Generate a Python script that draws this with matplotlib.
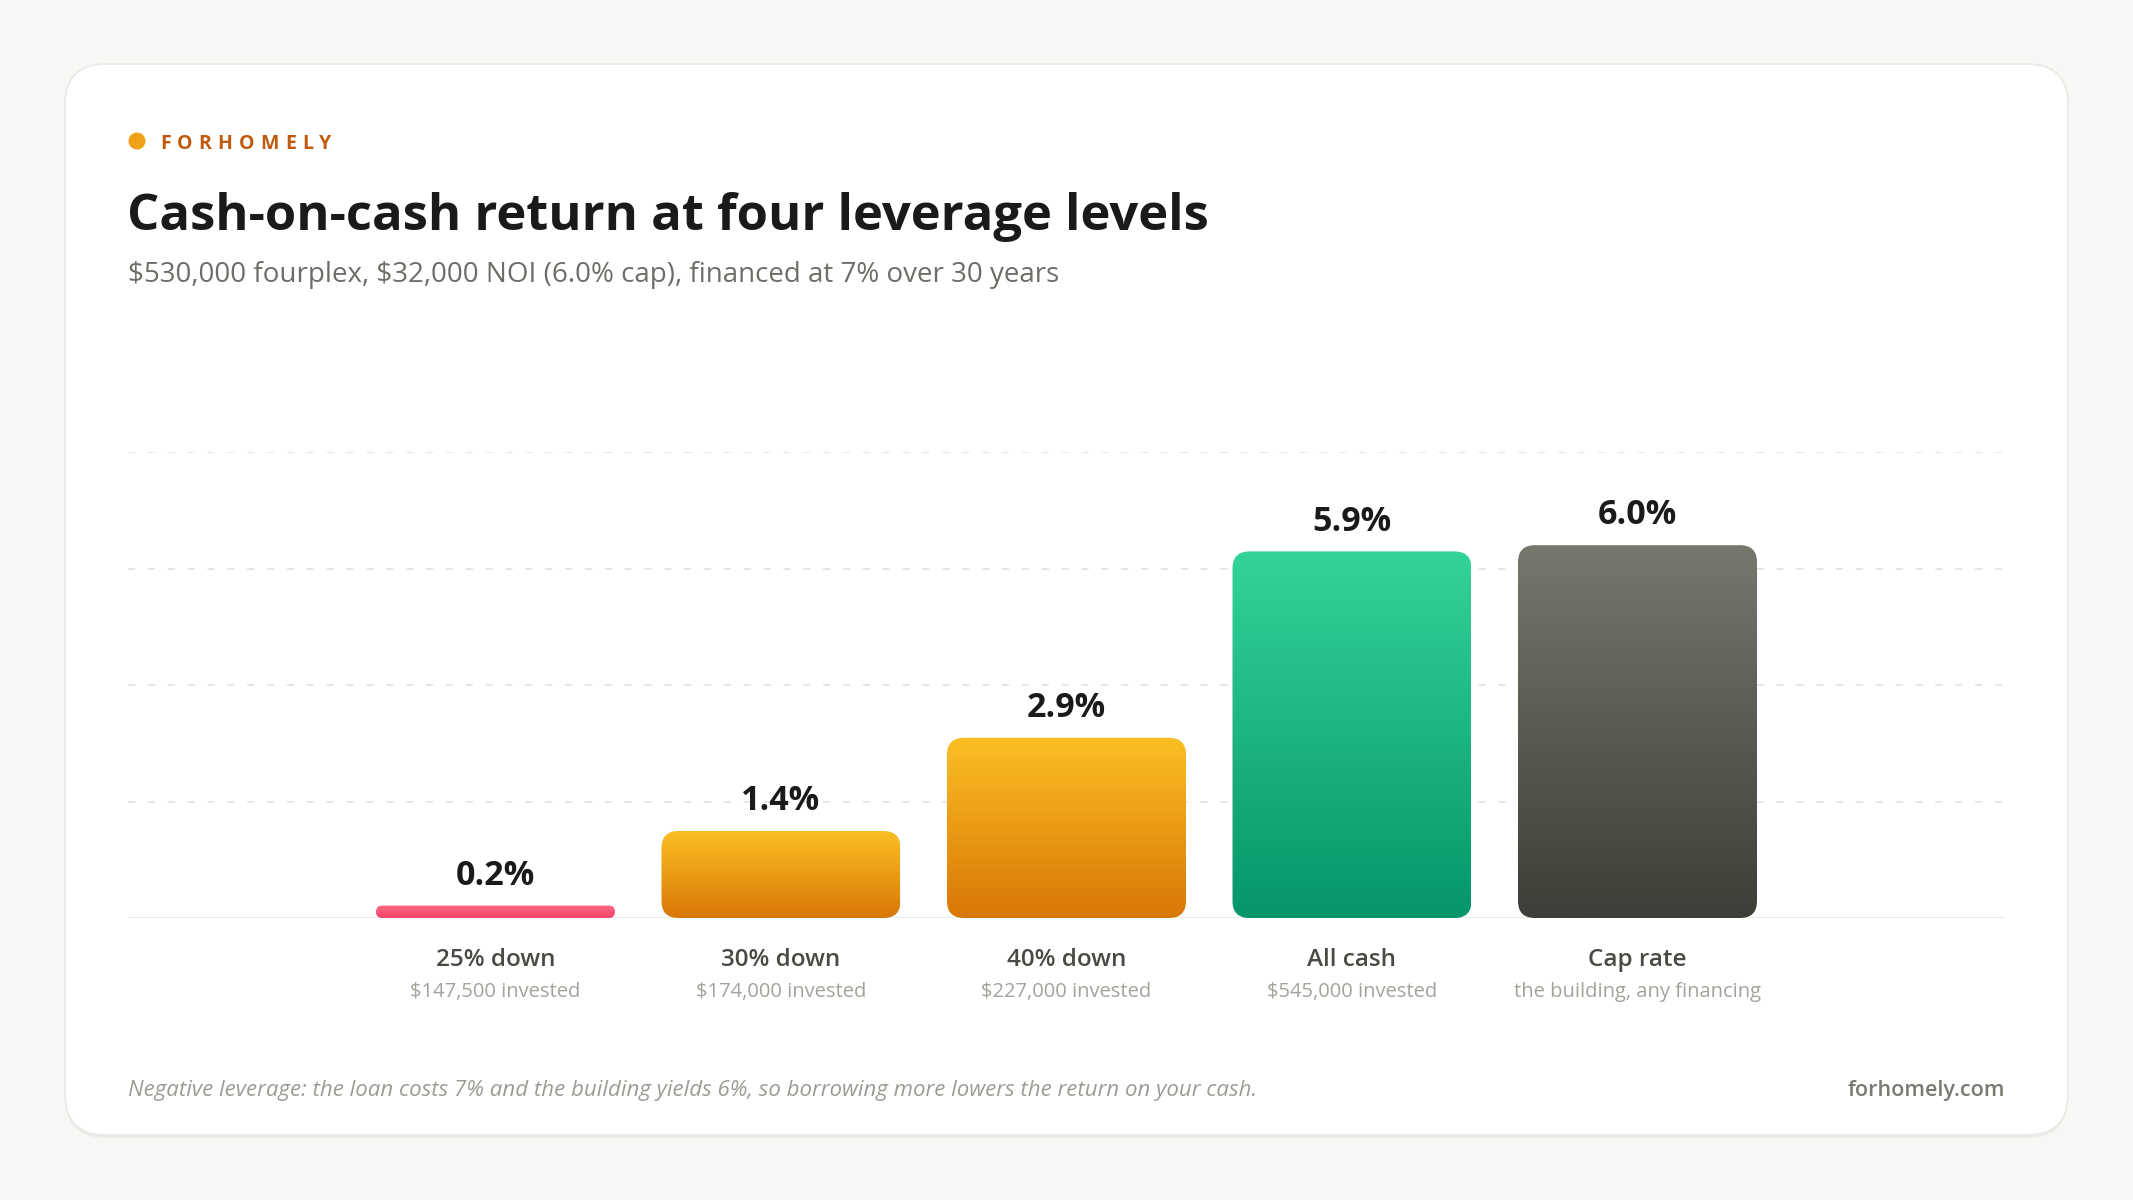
import numpy as np
import matplotlib
matplotlib.use("Agg")
import matplotlib.pyplot as plt
from matplotlib.patches import FancyBboxPatch, Circle
from matplotlib.colors import LinearSegmentedColormap
from matplotlib.transforms import blended_transform_factory

plt.rcParams['font.family'] = ['Open Sans', 'DejaVu Sans']
plt.rcParams['text.parse_math'] = False

# data
categories = ["25% down", "30% down", "40% down", "All cash", "Cap rate"]
sublabels = ["$147,500 invested", "$174,000 invested", "$227,000 invested",
             "$545,000 invested", "the building, any financing"]
returns = [0.2, 1.4, 2.9, 5.9, 6.0]
top_colors = ["#fb6a82", "#fbbf24", "#fbbf24", "#34d399", "#78776d"]
bottom_colors = ["#f4456a", "#d97706", "#d97706", "#059669", "#3e3d37"]

title = "Cash-on-cash return at four leverage levels"
subtitle = "$530,000 fourplex, $32,000 NOI (6.0% cap), financed at 7% over 30 years"
brand = "FORHOMELY"
footnote = ("Negative leverage: the loan costs 7% and the building yields 6%, "
            "so borrowing more lowers the return on your cash.")
site = "forhomely.com"

W, H = 2133, 1200
fig = plt.figure(figsize=(W / 100, H / 100), dpi=100)
fig.patch.set_facecolor("#f7f7f5")

# background layer in pixel coords (y down)
bg = fig.add_axes([0, 0, 1, 1])
bg.set_xlim(0, W)
bg.set_ylim(H, 0)
bg.axis("off")

shadow = FancyBboxPatch((65, 67), 2003, 1071, boxstyle="round,pad=0,rounding_size=41",
                        fc="#ebebe8", ec="none", zorder=0)
bg.add_patch(shadow)
card = FancyBboxPatch((65, 64), 2003, 1071, boxstyle="round,pad=0,rounding_size=41",
                      fc="white", ec="#e9e9e5", lw=1.2, zorder=1)
bg.add_patch(card)

# brand mark with letter spacing
bg.add_patch(Circle((137, 141), 8.5, fc="#f0a11a", ec="none", zorder=2))
renderer = fig.canvas.get_renderer()
x = 160
for ch in brand:
    t = bg.text(x, 149, ch, fontsize=14, fontweight="bold", color="#c05a0e",
                va="baseline", ha="left", zorder=2)
    x += t.get_window_extent(renderer).width + 6.2

bg.text(127, 230, title, fontsize=36.5, fontweight="bold", color="#1a1a1a",
        va="baseline", ha="left", zorder=2)
bg.text(128, 282, subtitle, fontsize=20, color="#6e6e68",
        va="baseline", ha="left", zorder=2)
bg.text(128, 1096, footnote, fontsize=16, style="italic", color="#9c9c95",
        va="baseline", ha="left", zorder=2)
bg.text(2005, 1096, site, fontsize=15.5, fontweight="semibold", color="#7a7a73",
        va="baseline", ha="right", zorder=2)

# chart axes
ax_left, ax_right, ax_top, ax_bottom = 128, 2005, 452, 918
ax = fig.add_axes([ax_left / W, (H - ax_bottom) / H, (ax_right - ax_left) / W,
                   (ax_bottom - ax_top) / H])
ax.set_facecolor("none")
ax.set_zorder(3)

pitch = 285.5
half_span = (ax_right - ax_left) / 2 / pitch
mid = (len(categories) - 1) / 2
ymax = max(returns) * 1.25

for spine in ax.spines.values():
    spine.set_visible(False)
ax.set_xticks([])
ax.set_yticks([])

for k in range(1, 5):
    ax.axhline(ymax * k / 4, color="#e4e4e0", lw=1.3, ls=(0, (4, 7)), zorder=0)
ax.axhline(0, color="#e8e8e4", lw=2, zorder=1)

px_x = pitch
px_y = (ax_bottom - ax_top) / ymax
bar_w = 239 / pitch
radius_px = 17

for i, (v, c0, c1) in enumerate(zip(returns, top_colors, bottom_colors)):
    x0 = i - bar_w / 2
    h_px = v * px_y
    r = min(radius_px, h_px / 2)
    patch = FancyBboxPatch((x0, 0), bar_w, v,
                           boxstyle="round,pad=0,rounding_size=%f" % (r / px_x),
                           mutation_aspect=px_x / px_y,
                           fc="none", ec="none", zorder=2)
    ax.add_patch(patch)
    cmap = LinearSegmentedColormap.from_list("g%d" % i, [c1, c0])
    grad = np.linspace(0, 1, 256).reshape(-1, 1)
    im = ax.imshow(grad, cmap=cmap, extent=[x0, x0 + bar_w, 0, v], origin="lower",
                   aspect="auto", zorder=2, interpolation="bilinear")
    im.set_clip_path(patch)
    ax.annotate("%.1f%%" % v, (i, v), xytext=(0, 15), textcoords="offset points",
                ha="center", va="baseline", fontsize=24.5, fontweight="bold",
                color="#1a1a1a")

ax.set_xlim(mid - half_span, mid + half_span)
ax.set_ylim(0, ymax)

trans = blended_transform_factory(ax.transData, bg.transData)
for i, (lab, sub) in enumerate(zip(categories, sublabels)):
    ax.text(i, 966, lab, transform=trans, ha="center", va="baseline", fontsize=17.5,
            fontweight="semibold", color="#4a4a44", clip_on=False)
    ax.text(i, 997, sub, transform=trans, ha="center", va="baseline", fontsize=14.5,
            color="#a3a39c", clip_on=False)

fig.savefig("out.png", dpi=100, facecolor=fig.get_facecolor())
